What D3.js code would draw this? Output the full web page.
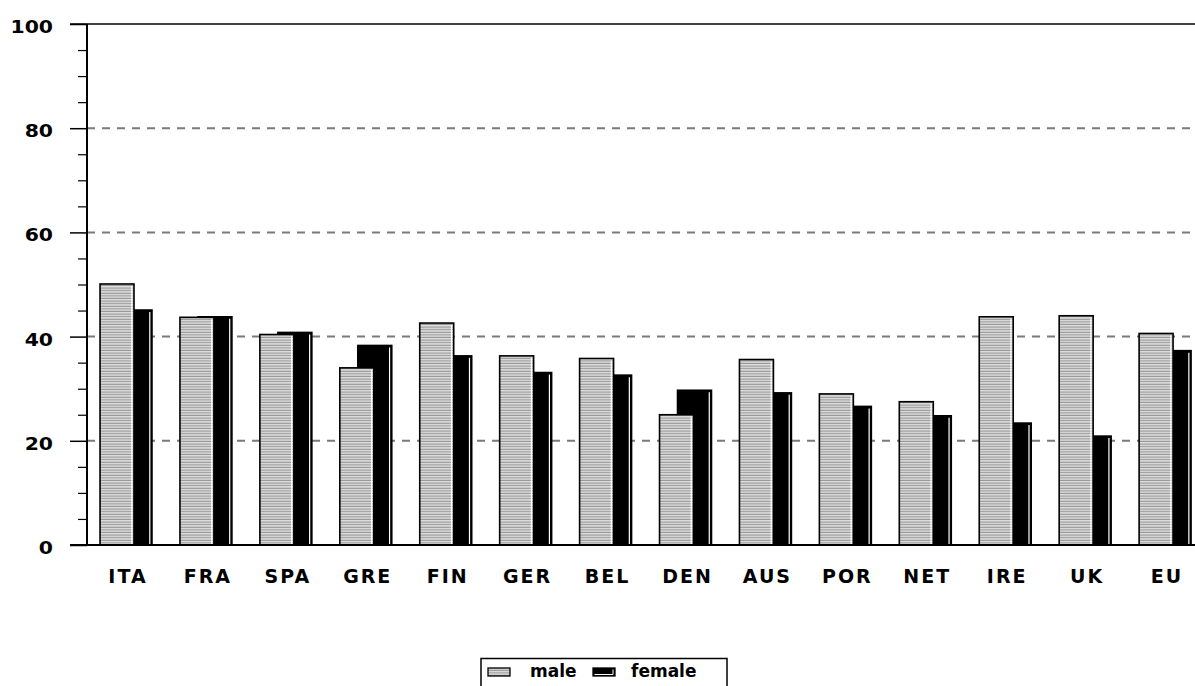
<!DOCTYPE html>
<html>
<head>
<meta charset="utf-8">
<script src="https://cdn.jsdelivr.net/npm/d3@7"></script>
<style>
  html, body { margin: 0; padding: 0; background: #fff; overflow: hidden; }
  text { font-family: 'DejaVu Sans', Verdana, sans-serif; font-weight: bold; fill: #000; }
</style>
</head>
<body>
<div id="chart"></div>
<script>
const countries = ['ITA', 'FRA', 'SPA', 'GRE', 'FIN', 'GER', 'BEL', 'DEN', 'AUS', 'POR', 'NET', 'IRE', 'UK', 'EU'];
const maleValues = [50.1, 43.7, 40.4, 34.0, 42.6, 36.3, 35.8, 25.0, 35.6, 29.0, 27.5, 43.8, 44.0, 40.6];
const femaleValues = [45.1, 43.8, 40.8, 38.3, 36.3, 33.1, 32.6, 29.7, 29.2, 26.6, 24.8, 23.4, 20.9, 37.3];
const majorTicks = [0, 20, 40, 60, 80, 100];
const seriesNames = ['male', 'female'];

const width = 1195;
const height = 686;
const plot = { left: 87, right: 1206, top: 24, bottom: 545 };

const svg = d3.select('#chart').append('svg')
  .attr('width', width)
  .attr('height', height);

const defs = svg.append('defs');

// horizontal grey stripes for the male bars
const stripes = defs.append('pattern')
  .attr('id', 'stripes')
  .attr('patternUnits', 'userSpaceOnUse')
  .attr('width', 8)
  .attr('height', 2.6);
stripes.append('rect')
  .attr('width', 8).attr('height', 2.6)
  .attr('fill', '#dedede');
stripes.append('rect')
  .attr('y', 1.5).attr('width', 8).attr('height', 1.1)
  .attr('fill', '#959595');

const xScale = d3.scaleBand()
  .domain(countries)
  .range([plot.left, plot.right]);

const yScale = d3.scaleLinear()
  .domain([0, 100])
  .range([plot.bottom, plot.top]);

// offset of each bar inside its band (bars overlap)
const offset = d3.scaleOrdinal()
  .domain(seriesNames)
  .range([xScale.bandwidth() * 0.163, xScale.bandwidth() * 0.388]);
const barWidth = xScale.bandwidth() * 0.425;

// gridlines
svg.append('g')
  .selectAll('line')
  .data(majorTicks.filter((d) => d > 0 && d < 100))
  .join('line')
  .attr('x1', plot.left)
  .attr('x2', plot.right)
  .attr('y1', (d) => yScale(d))
  .attr('y2', (d) => yScale(d))
  .style('stroke', '#7a7a7a')
  .style('stroke-width', 2)
  .style('stroke-dasharray', '8,7');

// top frame line
svg.append('line')
  .attr('x1', plot.left - 17)
  .attr('x2', plot.right)
  .attr('y1', yScale(100))
  .attr('y2', yScale(100))
  .style('stroke', '#000')
  .style('stroke-width', 1.5);

const rows = countries.map((c, i) => ({ country: c, male: maleValues[i], female: femaleValues[i] }));

function drawBars(key, fill) {
  const g = svg.append('g').attr('class', `bars-${key}`);
  const bars = g.selectAll('g')
    .data(rows)
    .join('g');

  bars.append('rect')
    .attr('x', (d) => xScale(d.country) + offset(key))
    .attr('y', (d) => yScale(d[key]))
    .attr('width', barWidth)
    .attr('height', (d) => yScale(0) - yScale(d[key]))
    .style('fill', fill)
    .style('stroke', '#000')
    .style('stroke-width', 1.6);

  // white highlight just inside the right edge
  bars.append('line')
    .attr('x1', (d) => xScale(d.country) + offset(key) + barWidth - 2.2)
    .attr('x2', (d) => xScale(d.country) + offset(key) + barWidth - 2.2)
    .attr('y1', (d) => yScale(d[key]) + 2)
    .attr('y2', yScale(0))
    .style('stroke', '#fff')
    .style('stroke-width', 1.2);
}

drawBars('female', '#000');
drawBars('male', 'url(#stripes)');

// y axis: major ticks with labels
const yAxis = d3.axisLeft(yScale)
  .tickValues(majorTicks)
  .tickSize(17)
  .tickFormat(d3.format('d'));

const yAxisG = svg.append('g')
  .attr('transform', `translate(${plot.left},0)`)
  .call(yAxis);

yAxisG.select('.domain')
  .attr('d', `M0,${plot.top}V${plot.bottom}`)
  .style('stroke', '#000')
  .style('stroke-width', 2);
yAxisG.selectAll('.tick line').style('stroke', '#000').style('stroke-width', 1.5);

// labels are a little stretched sideways in the original
const labelStretch = 1.2;
yAxisG.selectAll('.tick text')
  .attr('x', -34 / labelStretch)
  .attr('dy', null)
  .attr('y', 8.5)
  .attr('transform', `scale(${labelStretch},1)`)
  .style('font-size', '17px')
  .style('font-family', "'DejaVu Sans', Verdana, sans-serif")
  .style('font-weight', 'bold');

// minor ticks every 5
const minorAxis = d3.axisLeft(yScale)
  .tickValues(d3.range(5, 100, 5).filter((d) => d % 20 !== 0))
  .tickSize(9)
  .tickFormat('');

const minorG = svg.append('g')
  .attr('transform', `translate(${plot.left},0)`)
  .call(minorAxis);
minorG.select('.domain').remove();
minorG.selectAll('.tick line').style('stroke', '#000').style('stroke-width', 1.2);

// x axis baseline
svg.append('line')
  .attr('x1', plot.left - 17)
  .attr('x2', plot.right)
  .attr('y1', yScale(0))
  .attr('y2', yScale(0))
  .style('stroke', '#000')
  .style('stroke-width', 2);

// category labels
svg.append('g')
  .selectAll('text')
  .data(countries)
  .join('text')
  .attr('x', (d) => xScale(d) + xScale.bandwidth() / 2 + 1)
  .attr('y', 583)
  .attr('text-anchor', 'middle')
  .style('font-size', '19px')
  .style('letter-spacing', '2px')
  .text((d) => d);

// legend
const legend = svg.append('g').attr('class', 'legend');
legend.append('rect')
  .attr('x', 481)
  .attr('y', 658.5)
  .attr('width', 246)
  .attr('height', 40)
  .style('fill', '#fff')
  .style('stroke', '#000')
  .style('stroke-width', 1.5);

const legendItems = [
  { name: seriesNames[0], fill: 'url(#stripes)', sx: 488, tx: 530 },
  { name: seriesNames[1], fill: '#000', sx: 593, tx: 631 }
];

legendItems.forEach((item) => {
  legend.append('rect')
    .attr('x', item.sx)
    .attr('y', 668)
    .attr('width', 22)
    .attr('height', 8)
    .style('fill', item.fill)
    .style('stroke', '#000')
    .style('stroke-width', 1.3);
  if (item.name === 'female') {
    legend.append('path')
      .attr('d', `M${item.sx + 20},${669.5}V${674.5}H${item.sx + 1.5}`)
      .style('fill', 'none')
      .style('stroke', '#fff')
      .style('stroke-width', 1);
  }
  legend.append('text')
    .attr('x', item.tx)
    .attr('y', 677)
    .style('font-size', '17px')
    .text(item.name);
});
</script>
</body>
</html>
